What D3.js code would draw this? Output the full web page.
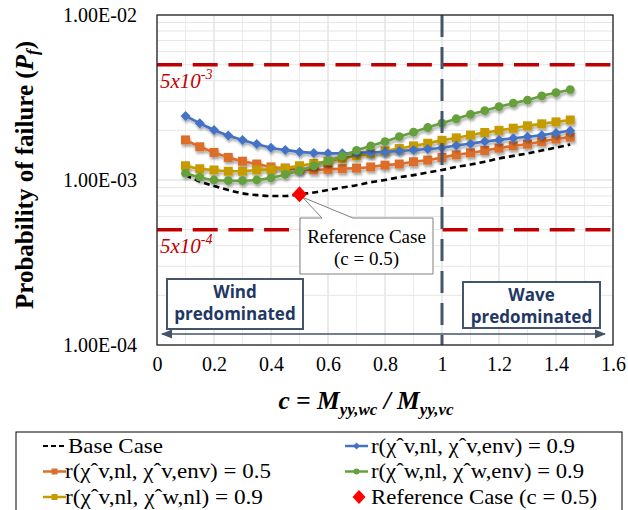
<!DOCTYPE html>
<html><head><meta charset="utf-8">
<script src="https://cdn.jsdelivr.net/npm/d3@7"></script>
<style>body{margin:0;background:#fff} svg{display:block}</style>
</head><body><svg id="chart" width="628" height="510"></svg>
<script>
// ---- data ----
const cValues = [0.10,0.15,0.20,0.25,0.30,0.35,0.40,0.45,0.50,0.55,0.60,0.65,0.70,0.75,0.80,0.85,0.90,0.95,1.00,1.05,1.10,1.15,1.20,1.25,1.30,1.35,1.40,1.45];
// Pf values in units of 1e-3
const baseCase   = [1.07,0.98,0.92,0.87,0.83,0.81,0.80,0.80,0.82,0.84,0.87,0.90,0.93,0.97,1.00,1.04,1.07,1.11,1.15,1.20,1.24,1.29,1.35,1.40,1.45,1.51,1.57,1.64];
const rVV09      = [2.44,2.21,2.01,1.86,1.75,1.65,1.57,1.52,1.48,1.46,1.45,1.45,1.46,1.47,1.48,1.50,1.52,1.54,1.57,1.62,1.66,1.71,1.75,1.79,1.83,1.87,1.93,1.99];
const rVV05      = [1.75,1.59,1.47,1.37,1.30,1.25,1.20,1.18,1.16,1.15,1.16,1.17,1.18,1.20,1.23,1.25,1.29,1.32,1.37,1.42,1.46,1.51,1.56,1.61,1.65,1.71,1.77,1.82];
const rWW09      = [1.10,1.04,1.00,0.99,0.99,1.00,1.03,1.08,1.14,1.22,1.31,1.40,1.51,1.61,1.71,1.83,1.95,2.08,2.21,2.35,2.50,2.63,2.78,2.92,3.05,3.23,3.38,3.53];
const rVW09      = [1.22,1.17,1.15,1.13,1.13,1.15,1.16,1.18,1.22,1.26,1.30,1.35,1.40,1.45,1.50,1.55,1.61,1.67,1.74,1.80,1.87,1.94,2.00,2.06,2.13,2.19,2.25,2.31];
const refCaseC = 0.5, refCasePf = 0.82e-3;
const thresholdValues = [5e-3, 5e-4];
const thresholdLabels = [["5x10","-3"],["5x10","-4"]];
const xTicks = [0,0.2,0.4,0.6,0.8,1.0,1.2,1.4,1.6];
const yTicks = [1e-4,1e-3,1e-2];
const yTickLabels = ["1.00E-04","1.00E-03","1.00E-02"];
const legendNames = ["Base Case","r(χ\u02C6v,nl, χ\u02C6v,env) = 0.9","r(χ\u02C6v,nl, χ\u02C6v,env) = 0.5","r(χ\u02C6w,nl, χ\u02C6w,env) = 0.9","r(χ\u02C6v,nl, χ\u02C6w,nl) = 0.9","Reference Case (c = 0.5)"];

// ---- setup ----
const svg = d3.select("#chart");
const L=157,R=613,T=15,B=345;
const x = d3.scaleLinear().domain([0,1.6]).range([L,R]);
const y = d3.scaleLog().domain([1e-4,1e-2]).range([B,T]);
const serif = "'Liberation Serif','Times New Roman',serif";

const defs = svg.append("defs");
const f = defs.append("filter").attr("id","sh").attr("x","-10%").attr("y","-20%").attr("width","130%").attr("height","160%");
f.append("feDropShadow").attr("dx",1).attr("dy",2.5).attr("stdDeviation",1.3).attr("flood-color","#000").attr("flood-opacity",0.33);
const mk = defs.append("marker").attr("id","ah").attr("viewBox","0 0 10 10").attr("refX",9).attr("refY",5)
  .attr("markerWidth",7).attr("markerHeight",7).attr("orient","auto-start-reverse");
mk.append("path").attr("d","M0,1 L10,5 L0,9 Z").attr("fill","#44546A");

// grid
const g = svg.append("g");
d3.range(1,16,2).forEach(i=>{ g.append("line").attr("x1",x(i/10)).attr("x2",x(i/10)).attr("y1",T).attr("y2",B).attr("stroke","#ececec"); });
xTicks.forEach(t=>{ g.append("line").attr("x1",x(t)).attr("x2",x(t)).attr("y1",T).attr("y2",B).attr("stroke","#d6d6d6"); });
[1e-4,1e-3].forEach(dec=>{ d3.range(2,10).forEach(k=>{ g.append("line").attr("x1",L).attr("x2",R).attr("y1",y(k*dec)).attr("y2",y(k*dec)).attr("stroke","#e6e6e6"); }); });
yTicks.forEach(t=>{ g.append("line").attr("x1",L).attr("x2",R).attr("y1",y(t)).attr("y2",y(t)).attr("stroke","#d6d6d6"); });

// thresholds
thresholdValues.forEach((v,i)=>{
  svg.append("line").attr("x1",L).attr("x2",R).attr("y1",y(v)).attr("y2",y(v))
    .attr("stroke","#C00000").attr("stroke-width",3.5).attr("stroke-dasharray","25,10.7");
  const t = svg.append("text").attr("x",L+3).attr("y",y(v)+23).attr("fill","#C00000")
    .attr("font-family",serif).attr("font-style","italic").attr("font-size",21);
  t.append("tspan").text(thresholdLabels[i][0]);
  t.append("tspan").attr("dy",-9).attr("font-size",14).text(thresholdLabels[i][1]);
});

// series
const line = d3.line().x((d,i)=>x(cValues[i])).y(d=>y(d*1e-3)).curve(d3.curveMonotoneX);
svg.append("path").datum(baseCase).attr("d",line).attr("fill","none").attr("stroke","#000")
  .attr("stroke-width",2.6).attr("stroke-dasharray","6,4");

const series = [
  {data:rVV05, color:"#DC6E2B", shape:"square", size:9},
  {data:rVW09, color:"#C59B05", shape:"square", size:9},
  {data:rVV09, color:"#4472C4", shape:"diamond", size:5},
  {data:rWW09, color:"#66A03D", shape:"circle", size:4.4}
];
function marker(sel, shape, size, color){
  if(shape==="square") sel.append("rect").attr("x",-size/2).attr("y",-size/2).attr("width",size).attr("height",size).attr("fill",color);
  else if(shape==="circle") sel.append("circle").attr("r",size).attr("fill",color);
  else if(shape==="diamond") sel.append("path").attr("d",`M0,${-size}L${size},0L0,${size}L${-size},0Z`).attr("fill",color);
}
series.forEach(s=>{
  const gs = svg.append("g").attr("filter","url(#sh)");
  gs.append("path").datum(s.data).attr("d",line).attr("fill","none").attr("stroke",s.color).attr("stroke-width",2.6);
  s.data.forEach((v,i)=>{
    const m = gs.append("g").attr("transform",`translate(${x(cValues[i])},${y(v*1e-3)})`);
    marker(m,s.shape,s.size,s.color);
  });
});

// vertical line at c=1
svg.append("line").attr("x1",x(1)).attr("x2",x(1)).attr("y1",T).attr("y2",B)
  .attr("stroke","#44546A").attr("stroke-width",3).attr("stroke-dasharray","22,10");

// double arrow
svg.append("line").attr("x1",L+5).attr("x2",R-8).attr("y1",334).attr("y2",334)
  .attr("stroke","#44546A").attr("stroke-width",1.6).attr("marker-start","url(#ah)").attr("marker-end","url(#ah)");

// region boxes
function regionBox(x0,y0,w,h,l1,l2){
  svg.append("rect").attr("x",x0).attr("y",y0).attr("width",w).attr("height",h).attr("fill","#fff").attr("stroke","#44546A").attr("stroke-width",2);
  const t = svg.append("text").attr("text-anchor","middle").attr("font-family","'Open Sans',sans-serif").attr("font-weight",700).attr("font-size",17).attr("fill","#1F3864");
  t.append("tspan").attr("x",x0+w/2).attr("y",y0+19).text(l1);
  t.append("tspan").attr("x",x0+w/2).attr("y",y0+41).text(l2);
}
regionBox(167,279,136,50,"Wind","predominated");
regionBox(463,282,137,46,"Wave","predominated");

// reference case point and callout
const rx = x(refCaseC), ry = y(refCasePf);
svg.append("path").attr("d",`M${300},218L${322},218L${rx+3},${ry+3}L${353},218L${433},218L${433},274L${300},274Z`)
  .attr("fill","#fff").attr("stroke","#808080").attr("stroke-width",1);
const ct = svg.append("text").attr("text-anchor","middle").attr("font-family",serif).attr("font-size",19).attr("fill","#000");
ct.append("tspan").attr("x",366.5).attr("y",243).text("Reference Case");
ct.append("tspan").attr("x",366.5).attr("y",265).text("(c = 0.5)");
svg.append("path").attr("transform",`translate(${rx},${ry})`).attr("d","M0,-8L7.5,0L0,8L-7.5,0Z").attr("fill","#FF0000");

// plot border
svg.append("rect").attr("x",L).attr("y",T).attr("width",R-L).attr("height",B-T).attr("fill","none").attr("stroke","#262626").attr("stroke-width",1.3);

// axes
const xa = svg.append("g").attr("transform",`translate(0,${B})`)
  .call(d3.axisBottom(x).tickValues(xTicks).tickSize(0).tickPadding(12).tickFormat(d=>String(+d.toFixed(1))));
xa.select(".domain").remove();
xa.selectAll("text").attr("font-family",serif).attr("font-size",20).attr("fill","#000");
const ya = svg.append("g").attr("transform",`translate(${L},0)`)
  .call(d3.axisLeft(y).tickValues(yTicks).tickSize(0).tickPadding(20).tickFormat((d,i)=>yTickLabels[i]));
ya.select(".domain").remove();
ya.selectAll("text").attr("font-family",serif).attr("font-size",20).attr("fill","#000");

// axis titles
const yt = svg.append("text").attr("transform","translate(33,175) rotate(-90)").attr("text-anchor","middle")
  .attr("font-family",serif).attr("font-weight",700).attr("font-size",25).attr("fill","#000");
yt.append("tspan").text("Probability of failure (");
yt.append("tspan").attr("font-style","italic").text("P");
yt.append("tspan").attr("font-style","italic").attr("font-size",17).attr("dy",5).text("f");
yt.append("tspan").attr("dy",-5).text(")");

const xt = svg.append("text").attr("x",366).attr("y",409).attr("text-anchor","middle")
  .attr("font-family",serif).attr("font-weight",700).attr("font-style","italic").attr("font-size",25.5).attr("fill","#000");
xt.append("tspan").text("c = M");
xt.append("tspan").attr("font-size",17).attr("dy",6).text("yy,wc");
xt.append("tspan").attr("dy",-6).text(" / M");
xt.append("tspan").attr("font-size",17).attr("dy",6).text("yy,vc");

// legend
svg.append("rect").attr("x",16).attr("y",432).attr("width",606).attr("height",90).attr("fill","#fff").attr("stroke","#000").attr("stroke-width",1);
const legendItems = [
  {name:legendNames[0], col:0, row:0, type:"dash", tx:68, w:95},
  {name:legendNames[2], col:0, row:1, color:"#DC6E2B", shape:"square", size:6, tx:65, w:206},
  {name:legendNames[4], col:0, row:2, color:"#C59B05", shape:"square", size:6, tx:65, w:198},
  {name:legendNames[1], col:1, row:0, color:"#4472C4", shape:"diamond", size:3.5, tx:371, w:204},
  {name:legendNames[3], col:1, row:1, color:"#66A03D", shape:"circle", size:3, tx:371, w:213},
  {name:legendNames[5], col:1, row:2, type:"ref", tx:371, w:226}
];
legendItems.forEach(it=>{
  const x0 = it.col===0 ? 43 : 345, yy = 446 + it.row*25.5;
  const gi = svg.append("g");
  if(it.type==="dash"){
    gi.append("line").attr("x1",x0).attr("x2",x0+24).attr("y1",yy).attr("y2",yy).attr("stroke","#000").attr("stroke-width",2).attr("stroke-dasharray","5,3");
  } else if(it.type==="ref"){
    gi.append("path").attr("transform",`translate(${x0+14},${yy})`).attr("d","M0,-7L6.5,0L0,7L-6.5,0Z").attr("fill","#FF0000");
  } else {
    gi.append("line").attr("x1",x0).attr("x2",x0+23).attr("y1",yy).attr("y2",yy).attr("stroke",it.color).attr("stroke-width",2.5);
    const m = gi.append("g").attr("transform",`translate(${x0+11.5},${yy})`);
    marker(m,it.shape,it.size,it.color);
  }
  gi.append("text").attr("x",it.tx).attr("y",yy+6.5).attr("font-family",serif).attr("font-size",21)
    .attr("textLength",it.w).attr("lengthAdjust","spacingAndGlyphs").attr("fill","#000").text(it.name);
});
</script></body></html>
